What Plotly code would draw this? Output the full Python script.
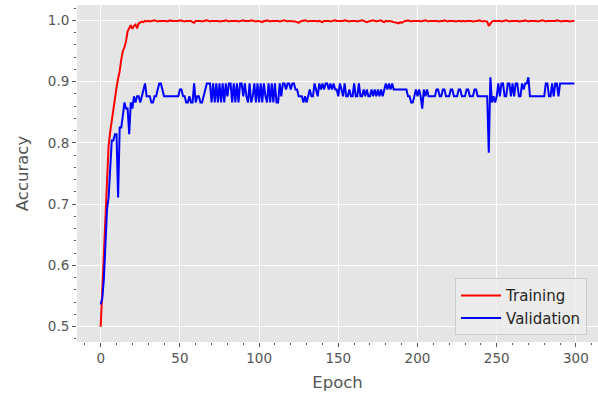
import plotly.graph_objects as go

epochs = list(range(300))

train_acc = [
    0.500, 0.560, 0.612, 0.672, 0.738, 0.795, 0.818, 0.838, 0.852, 0.872,
    0.890, 0.905, 0.917, 0.936, 0.950, 0.956, 0.966, 0.982, 0.986, 0.992,
    0.986, 0.991, 0.993, 0.987, 0.995, 0.997, 0.998, 0.997, 0.999, 0.998,
    0.999, 0.998, 0.999, 0.999, 1.000, 0.999, 0.998, 0.999, 0.999, 1.000,
    0.999, 0.999, 0.998, 0.999, 1.000, 0.999, 0.999, 0.998, 0.999, 0.999,
    1.000, 0.999, 0.999, 0.998, 0.999, 0.999, 0.998, 0.999, 0.997, 0.996,
    0.999, 0.999, 1.000, 0.999, 0.998, 0.999, 0.999, 1.000, 0.999, 0.998,
    0.999, 0.999, 0.999, 1.000, 0.999, 0.998, 0.999, 0.999, 0.999, 1.000,
    0.999, 0.998, 0.999, 0.999, 1.000, 0.999, 0.999, 0.998, 0.999, 0.999,
    1.000, 0.999, 0.999, 0.998, 0.999, 1.000, 0.999, 0.999, 0.998, 0.999,
    0.999, 0.998, 0.997, 0.999, 0.999, 1.000, 0.999, 0.998, 0.999, 0.999,
    1.000, 0.999, 0.999, 0.998, 0.999, 0.999, 1.000, 0.999, 0.998, 0.999,
    0.999, 0.999, 0.998, 0.998, 0.997, 0.996, 0.998, 0.999, 0.999, 1.000,
    0.999, 0.998, 0.999, 0.999, 1.000, 0.999, 0.999, 0.998, 0.999, 0.998,
    0.997, 0.999, 0.999, 1.000, 0.999, 0.998, 0.999, 0.999, 1.000, 0.999,
    0.999, 0.998, 0.999, 0.999, 1.000, 0.999, 0.999, 0.998, 0.999, 0.999,
    1.000, 0.999, 0.998, 0.999, 0.999, 1.000, 0.999, 0.998, 0.997, 0.998,
    0.999, 0.999, 1.000, 0.999, 0.998, 0.999, 0.999, 1.000, 0.998, 0.997,
    0.999, 0.998, 0.999, 0.999, 0.998, 0.997, 0.997, 0.996, 0.995, 0.997,
    0.996, 0.998, 0.999, 0.999, 1.000, 0.999, 0.998, 0.999, 0.999, 1.000,
    0.999, 0.999, 0.998, 0.999, 0.999, 1.000, 0.999, 0.998, 0.999, 0.999,
    0.999, 1.000, 0.999, 0.998, 0.999, 0.999, 0.999, 1.000, 0.999, 0.998,
    0.999, 0.999, 1.000, 0.999, 0.998, 0.999, 0.999, 0.999, 0.998, 0.999,
    0.998, 0.999, 0.999, 1.000, 0.999, 0.998, 0.999, 0.999, 0.999, 1.000,
    0.999, 0.998, 0.999, 0.999, 0.998, 0.991, 0.995, 0.998, 0.999, 0.999,
    1.000, 0.999, 0.999, 0.998, 0.999, 0.999, 1.000, 0.999, 0.998, 0.999,
    0.999, 0.999, 1.000, 0.999, 0.998, 0.999, 0.999, 0.999, 1.000, 0.999,
    0.998, 0.999, 0.999, 1.000, 0.999, 0.999, 0.998, 0.999, 0.999, 1.000,
    0.999, 0.998, 0.999, 0.999, 0.999, 0.998, 0.999, 0.999, 1.000, 0.999,
    0.999, 0.998, 0.999, 0.999, 1.000, 0.999, 0.998, 0.999, 0.999, 0.999,
]

val_acc = [
    0.536, 0.546, 0.577, 0.649, 0.691, 0.711, 0.763, 0.804, 0.804, 0.814,
    0.814, 0.711, 0.825, 0.825, 0.845, 0.866, 0.856, 0.856, 0.814, 0.866,
    0.856, 0.876, 0.866, 0.876, 0.876, 0.866, 0.876, 0.887, 0.897, 0.876,
    0.876, 0.876, 0.866, 0.866, 0.876, 0.876, 0.887, 0.897, 0.897, 0.887,
    0.876, 0.876, 0.876, 0.876, 0.876, 0.876, 0.876, 0.876, 0.876, 0.876,
    0.887, 0.887, 0.876, 0.876, 0.866, 0.866, 0.876, 0.866, 0.866, 0.897,
    0.866, 0.876, 0.876, 0.866, 0.866, 0.876, 0.887, 0.897, 0.897, 0.897,
    0.866, 0.897, 0.866, 0.897, 0.866, 0.897, 0.866, 0.897, 0.866, 0.897,
    0.876, 0.897, 0.897, 0.866, 0.897, 0.866, 0.897, 0.866, 0.897, 0.897,
    0.876, 0.897, 0.876, 0.866, 0.897, 0.866, 0.876, 0.897, 0.866, 0.897,
    0.866, 0.897, 0.866, 0.897, 0.876, 0.866, 0.897, 0.866, 0.897, 0.866,
    0.897, 0.866, 0.866, 0.897, 0.876, 0.897, 0.897, 0.887, 0.897, 0.897,
    0.887, 0.897, 0.897, 0.887, 0.887, 0.876, 0.876, 0.876, 0.866, 0.876,
    0.866, 0.876, 0.887, 0.876, 0.876, 0.897, 0.887, 0.876, 0.897, 0.887,
    0.897, 0.887, 0.897, 0.897, 0.887, 0.897, 0.887, 0.897, 0.887, 0.887,
    0.876, 0.897, 0.887, 0.876, 0.897, 0.876, 0.876, 0.887, 0.876, 0.876,
    0.897, 0.876, 0.876, 0.897, 0.876, 0.876, 0.887, 0.876, 0.887, 0.876,
    0.876, 0.887, 0.876, 0.887, 0.876, 0.887, 0.876, 0.887, 0.876, 0.887,
    0.897, 0.887, 0.897, 0.887, 0.897, 0.887, 0.887, 0.887, 0.887, 0.887,
    0.887, 0.887, 0.887, 0.887, 0.876, 0.876, 0.866, 0.866, 0.876, 0.887,
    0.876, 0.887, 0.876, 0.856, 0.887, 0.876, 0.887, 0.876, 0.876, 0.876,
    0.876, 0.876, 0.887, 0.887, 0.876, 0.876, 0.887, 0.887, 0.876, 0.876,
    0.876, 0.887, 0.887, 0.876, 0.876, 0.876, 0.887, 0.887, 0.876, 0.876,
    0.876, 0.887, 0.887, 0.876, 0.876, 0.876, 0.887, 0.887, 0.876, 0.876,
    0.876, 0.876, 0.876, 0.876, 0.876, 0.784, 0.907, 0.866, 0.876, 0.866,
    0.876, 0.897, 0.876, 0.897, 0.897, 0.876, 0.876, 0.897, 0.897, 0.876,
    0.897, 0.876, 0.897, 0.897, 0.876, 0.876, 0.897, 0.887, 0.897, 0.897,
    0.907, 0.876, 0.876, 0.876, 0.876, 0.876, 0.876, 0.876, 0.876, 0.876,
    0.876, 0.897, 0.897, 0.876, 0.876, 0.897, 0.876, 0.897, 0.897, 0.876,
    0.897, 0.897, 0.897, 0.897, 0.897, 0.897, 0.897, 0.897, 0.897, 0.897,
]

series_names = ["Training", "Validation"]
series_colors = ["#ff0000", "#0000ff"]

x_ticks = [0, 50, 100, 150, 200, 250, 300]
y_ticks = [0.5, 0.6, 0.7, 0.8, 0.9, 1.0]

FONT = "DejaVu Sans"
GREY = "#555555"

fig = go.Figure()
for name, vals, col in zip(series_names, [train_acc, val_acc], series_colors):
    fig.add_trace(go.Scatter(x=epochs, y=vals, mode="lines", name=name,
                             line=dict(color=col, width=2)))

n = len(epochs)
pad_x = 0.05 * (n - 1)
ymin = min(min(train_acc), min(val_acc))
ymax = max(max(train_acc), max(val_acc))
pad_y = 0.05 * (ymax - ymin)

fig.update_layout(
    width=598, height=398,
    margin=dict(l=77, r=0, t=5, b=56),
    paper_bgcolor="white",
    plot_bgcolor="#e5e5e5",
    font=dict(family=FONT, color=GREY, size=13),
    showlegend=True,
    legend=dict(
        x=0.979, y=0.02, xanchor="right", yanchor="bottom",
        bgcolor="rgba(236,236,236,0.85)", bordercolor="#cccccc", borderwidth=1,
        font=dict(family=FONT, size=15, color="#262626"),
        itemwidth=40,
    ),
    xaxis=dict(
        range=[-pad_x, (n - 1) + pad_x],
        tickvals=x_ticks, ticktext=[str(v) for v in x_ticks],
        showgrid=True, gridcolor="white", gridwidth=1.3,
        zeroline=False, showline=False,
        ticks="outside", ticklen=4, tickcolor=GREY, tickwidth=1,
        tickfont=dict(family=FONT, size=13.5, color=GREY),
        minor=dict(dtick=10, tick0=0, ticks="outside", ticklen=2,
                   tickcolor=GREY, showgrid=False),
        title=dict(text="Epoch", font=dict(family=FONT, size=16.5, color=GREY),
                   standoff=11),
    ),
    yaxis=dict(
        range=[ymin - pad_y, ymax + pad_y],
        tickvals=y_ticks, tickformat=".1f",
        showgrid=True, gridcolor="white", gridwidth=1.3,
        zeroline=False, showline=False,
        ticks="outside", ticklen=4, tickcolor=GREY, tickwidth=1,
        tickfont=dict(family=FONT, size=13.5, color=GREY),
        minor=dict(dtick=0.02, tick0=0.5, ticks="outside", ticklen=2,
                   tickcolor=GREY, showgrid=False),
        title=dict(text="Accuracy", font=dict(family=FONT, size=16.5, color=GREY),
                   standoff=15),
    ),
)

fig.write_html("out.html")
